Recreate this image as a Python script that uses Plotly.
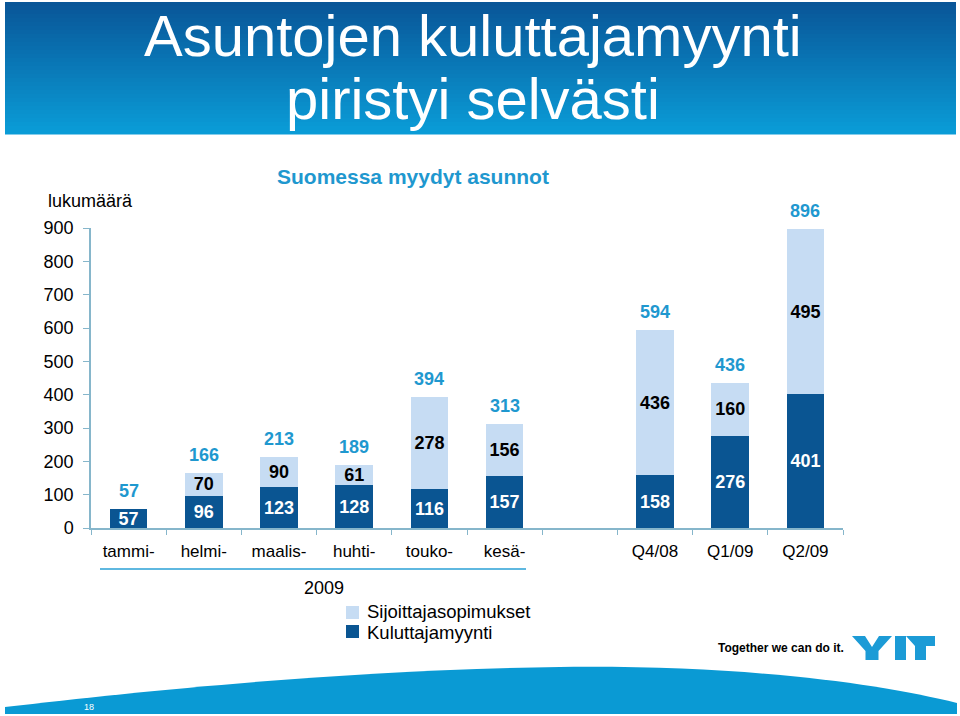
import plotly.graph_objects as go

# Suomessa myydyt asunnot
categories = ["tammi-", "helmi-", "maalis-", "huhti-", "touko-", "kesä-", " ", "Q4/08", "Q1/09", "Q2/09"]
kuluttajamyynti = [57, 96, 123, 128, 116, 157, None, 158, 276, 401]
sijoittajat = [0, 70, 90, 61, 278, 156, None, 436, 160, 495]
totals = [57, 166, 213, 189, 394, 313, None, 594, 436, 896]
y_ticks = [0, 100, 200, 300, 400, 500, 600, 700, 800, 900]

DARK = "rgb(10,85,146)"
LIGHT = "rgb(198,220,243)"
AXIS = "#86b6cb"
TOTAL = "#1f98cf"
FONT = "Liberation Sans"

# plot area in pixels
X0, X1, Y0, Y1 = 91, 843, 228, 528


def px(x):
    return (x - X0) / (X1 - X0)


def py(y):
    return (Y1 - y) / (Y1 - Y0)


def lbl(v):
    return "" if not v else str(v)


fig = go.Figure()
fig.add_trace(go.Bar(
    x=categories, y=kuluttajamyynti, name="Kuluttajamyynti",
    marker=dict(color=DARK, line=dict(width=0)),
    text=[lbl(v) for v in kuluttajamyynti], textposition="inside",
    insidetextanchor="middle", textangle=0,
    insidetextfont=dict(color="white", size=18, family=FONT, weight="bold"),
    hoverinfo="skip", showlegend=False,
))
fig.add_trace(go.Bar(
    x=categories, y=sijoittajat, name="Sijoittajasopimukset",
    marker=dict(color=LIGHT, line=dict(width=0)),
    text=[lbl(v) for v in sijoittajat], textposition="inside",
    insidetextanchor="middle", textangle=0,
    insidetextfont=dict(color="black", size=18, family=FONT, weight="bold"),
    hoverinfo="skip", showlegend=False,
))

# totals above the bars
for c, t in zip(categories, totals):
    if t is None:
        continue
    fig.add_annotation(x=c, y=t, text=str(t), showarrow=False, yanchor="bottom", yshift=6,
                       font=dict(size=18, color=TOTAL, family=FONT, weight="bold"))

shapes = []
# header band with a stepped gradient
top_c, bot_c = (9, 86, 152), (10, 156, 215)
n = 33
for i in range(n):
    f = i / (n - 1)
    col = tuple(round(a + (b - a) * f) for a, b in zip(top_c, bot_c))
    shapes.append(dict(type="rect", xref="paper", yref="paper",
                       x0=px(5), x1=px(956), y0=py(2 + i * 4), y1=py(2 + (i + 1) * 4 + 0.5),
                       fillcolor="rgb(%d,%d,%d)" % col, line=dict(width=0), layer="below"))

# underline of the month labels
shapes.append(dict(type="line", xref="paper", yref="paper", x0=px(100), x1=px(526),
                   y0=py(569), y1=py(569), line=dict(color="#2aa0d6", width=1.5)))

# legend squares
shapes.append(dict(type="rect", xref="paper", yref="paper", x0=px(346), x1=px(359),
                   y0=py(606), y1=py(619), fillcolor=LIGHT, line=dict(width=0)))
shapes.append(dict(type="rect", xref="paper", yref="paper", x0=px(346), x1=px(359),
                   y0=py(625), y1=py(638), fillcolor=DARK, line=dict(width=0)))

# bottom wave
pts = "M %f,%f C %f,%f %f,%f %f,%f C %f,%f %f,%f %f,%f L %f,%f L %f,%f Z" % (
    px(5), py(707), px(150), py(690), px(350), py(670), px(560), py(667),
    px(750), py(665), px(880), py(684), px(957), py(703),
    px(957), py(714), px(5), py(714))
shapes.append(dict(type="path", xref="paper", yref="paper", path=pts,
                   fillcolor="#0a9ad4", line=dict(width=0)))

# YIT logo
logo = "#1c9bd6"
y_path = "M %f,%f L %f,%f L %f,%f L %f,%f L %f,%f L %f,%f L %f,%f L %f,%f L %f,%f Z" % (
    px(852), py(636), px(865), py(636), px(872), py(647), px(879), py(636), px(892), py(636),
    px(878.5), py(651), px(878.5), py(660), px(865.5), py(660), px(865.5), py(651))
shapes.append(dict(type="path", xref="paper", yref="paper", path=y_path,
                   fillcolor=logo, line=dict(width=0)))
shapes.append(dict(type="rect", xref="paper", yref="paper", x0=px(895), x1=px(906),
                   y0=py(636), y1=py(660), fillcolor=logo, line=dict(width=0)))
t_path = "M %f,%f L %f,%f L %f,%f L %f,%f L %f,%f L %f,%f L %f,%f Z" % (
    px(906), py(636), px(935), py(636), px(935), py(646), px(926), py(646),
    px(926), py(660), px(915), py(660), px(915), py(646))
shapes.append(dict(type="path", xref="paper", yref="paper", path=t_path,
                   fillcolor=logo, line=dict(width=0)))

texts = [
    dict(x=473, y=35, text="Asuntojen kuluttajamyynti", size=58, color="white"),
    dict(x=473, y=98, text="piristyi selvästi", size=58, color="white"),
    dict(x=413, y=176, text="Suomessa myydyt asunnot", size=21, color=TOTAL, bold=True),
    dict(x=90, y=201, text="lukumäärä", size=18, color="black"),
    dict(x=324, y=588, text="2009", size=18, color="black"),
    dict(x=365, y=611, text="Sijoittajasopimukset", size=18.5, color="black", anchor="left"),
    dict(x=365, y=632, text="Kuluttajamyynti", size=18.5, color="black", anchor="left"),
    dict(x=781, y=648, text="Together we can do it.", size=12, color="black", bold=True),
    dict(x=89, y=707, text="18", size=9, color="white"),
]
for t in texts:
    fig.add_annotation(
        x=px(t["x"]), y=py(t["y"]), xref="paper", yref="paper", text=t["text"],
        showarrow=False, xanchor=t.get("anchor", "center"), yanchor="middle",
        font=dict(size=t["size"], color=t["color"], family=FONT,
                  weight="bold" if t.get("bold") else "normal"))

fig.update_layout(
    width=960, height=716, autosize=False,
    margin=dict(l=X0, r=960 - X1, t=Y0, b=716 - Y1, pad=0),
    paper_bgcolor="white", plot_bgcolor="white",
    barmode="stack", bargap=0.5,
    font=dict(family=FONT, color="black"),
    shapes=shapes,
    uniformtext=dict(minsize=18, mode="show"),
)
fig.update_xaxes(
    type="category", categoryorder="array", categoryarray=categories,
    range=[-0.5, len(categories) - 0.5], showline=True, linecolor=AXIS, linewidth=1.5,
    ticks="outside", tickson="boundaries", ticklen=5, tickcolor=AXIS, tickwidth=1,
    showgrid=False, zeroline=False, automargin=False,
    tickfont=dict(size=17, color="black", family=FONT), ticklabelstandoff=7,
    fixedrange=True,
)
fig.update_yaxes(
    range=[0, 900], tickvals=y_ticks, showline=True, linecolor=AXIS, linewidth=1.5,
    ticks="outside", ticklen=6, tickcolor=AXIS, tickwidth=1,
    showgrid=False, zeroline=False, automargin=False,
    tickfont=dict(size=18, color="black", family=FONT), ticklabelstandoff=6,
    fixedrange=True,
)

# the page's default body margin would shift the figure by 8 px
fig.write_html("out.html", config={"displayModeBar": False},
               post_script="document.body.style.margin='0';document.body.style.overflow='hidden';")
